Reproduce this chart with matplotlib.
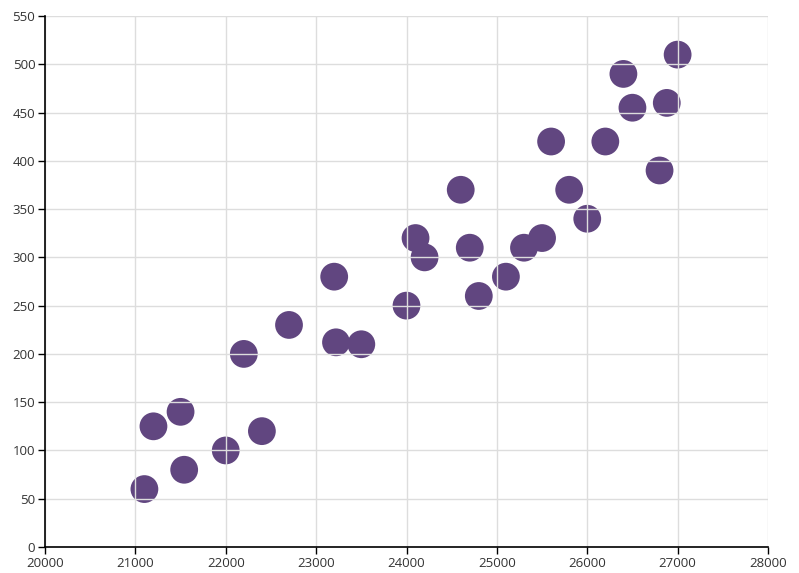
import matplotlib
matplotlib.use("Agg")
import matplotlib.pyplot as plt

x_vals = [21100, 21200, 21500, 21540, 22000, 22200, 22400, 22700, 23200, 23220,
          23500, 24000, 24100, 24200, 24600, 24700, 24800, 25100, 25300, 25500,
          25600, 25800, 26000, 26200, 26400, 26500, 26800, 26880, 27000]
y_vals = [60, 125, 140, 80, 100, 200, 120, 230, 280, 212,
          210, 250, 320, 300, 370, 310, 260, 280, 310, 320,
          420, 370, 340, 420, 490, 455, 390, 460, 510]
x_ticks = list(range(20000, 28001, 1000))
y_ticks = list(range(0, 551, 50))

plt.rcParams['font.family'] = ['Open Sans', 'DejaVu Sans']

fig = plt.figure(figsize=(7.99, 5.73), dpi=100)
ax = fig.add_axes([45 / 799, 26 / 573, 723 / 799, 531 / 573])

ax.scatter(x_vals, y_vals, s=400, color="#614680", edgecolors="none", zorder=2)

ax.set_xlim(20000, 28000)
ax.set_ylim(0, 550)
ax.set_xticks(x_ticks)
ax.set_yticks(y_ticks)
ax.grid(True, color="#dddddd", linewidth=1, zorder=3)
ax.set_axisbelow(False)

for side in ("top", "right"):
    ax.spines[side].set_visible(False)
for side in ("left", "bottom"):
    ax.spines[side].set_color("black")
    ax.spines[side].set_linewidth(1.2)
    ax.spines[side].set_zorder(4)

ax.tick_params(axis="both", length=5, width=1, color="black",
               labelsize=9.5, labelcolor="#333333", pad=2)

fig.savefig("out.png", dpi=100)
